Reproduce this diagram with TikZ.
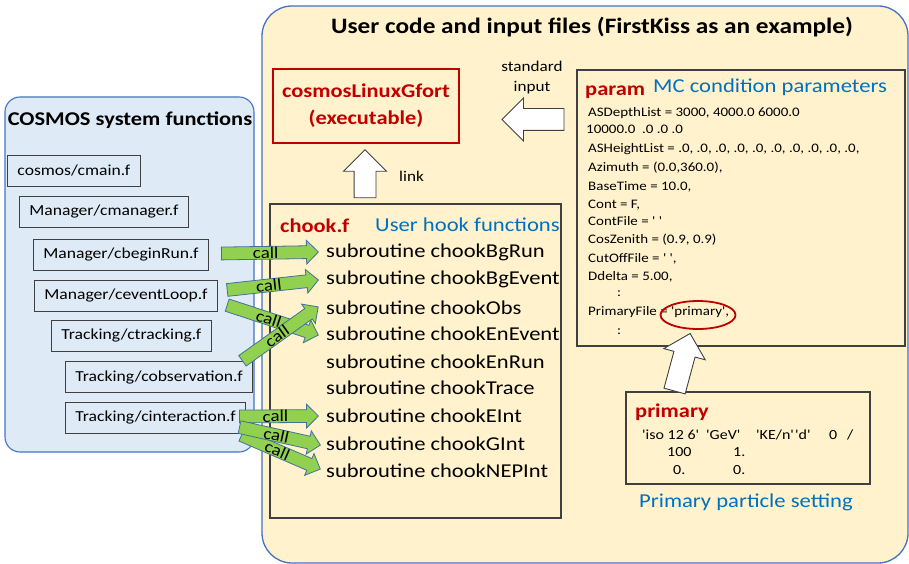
\documentclass[tikz,border=0pt]{standalone}
\usepackage{fontspec}
\setmainfont{Carlito}[Ligatures=TeXOff,FakeStretch=1.15]
\usetikzlibrary{calc,shapes.geometric,shapes.arrows}
\definecolor{usryellow}{RGB}{255,242,204}
\definecolor{sysblue}{RGB}{222,235,247}
\definecolor{frameblue}{RGB}{68,114,196}
\definecolor{hookred}{RGB}{192,0,0}
\definecolor{hookblue}{RGB}{0,112,192}
\definecolor{callgreen}{RGB}{146,208,80}
\definecolor{callrim}{RGB}{65,113,156}
\definecolor{boxgray}{RGB}{64,64,64}
% block arrow: style, tail, tip, name
\newcommand{\blockarrow}[4]{%
  \path let \p1=($(#3)-(#2)$), \n1={atan2(\y1,\x1)}, \n2={veclen(\x1,\y1)} in
    node[#1,anchor=tail,rotate=\n1,minimum height=\n2] (#4) at (#2) {};}
% green call arrow: tail, tip, name
\newcommand{\callarrow}[3]{%
  \blockarrow{callshape}{#1}{#2}{#3}%
  \path let \p1=($(#2)-(#1)$), \n1={atan2(\y1,\x1)} in
    node[calltext,rotate=\n1] (#3-lbl) at ($(#1)!0.46!(#2)$) {call};}

\begin{document}
\begin{tikzpicture}[x=1pt,y=-1pt,
  hdr/.style={inner sep=0pt,font=\bfseries\fontsize{19.5}{24}\selectfont},
  redhdr/.style={hdr,text=hookred,anchor=west},
  bluehdr/.style={inner sep=0pt,anchor=west,text=hookblue,font=\fontsize{19.7}{24}\selectfont},
  subr/.style={inner sep=0pt,anchor=west,font=\fontsize{19.6}{24}\selectfont},
  parline/.style={inner sep=0pt,anchor=west,font=\fontsize{13}{16}\selectfont},
  primline/.style={inner sep=0pt,anchor=west,font=\fontsize{13.9}{17}\selectfont},
  note/.style={inner sep=0pt,font=\fontsize{14.9}{20}\selectfont},
  srcbox/.style={draw=boxgray,fill=sysblue,line width=0.9pt,anchor=west,inner xsep=10pt,
    inner ysep=0pt,minimum height=31pt,font=\fontsize{15.3}{18}\selectfont},
  filebox/.style={draw=boxgray,line width=1.1pt},
  callshape/.style={single arrow,draw=callrim,fill=callgreen,line width=0.8pt,inner xsep=0pt,
    inner ysep=6pt,single arrow head extend=5.5pt},
  calltext/.style={inner sep=0pt,font=\fontsize{16.5}{20}\selectfont},
  whitearrow/.style={single arrow,draw=boxgray,fill=white,line width=0.9pt,inner xsep=0pt,
    inner ysep=10.5pt,single arrow head extend=10.5pt}]
  \useasboundingbox (0,0) rectangle (909,564);
  % --- two panels ---
  \draw[frameblue,fill=usryellow,line width=1.3pt,rounded corners=30pt] (262,6) rectangle (908,563);
  \draw[frameblue,fill=sysblue,line width=1.1pt,rounded corners=15pt] (5,97) rectangle (254,452);
  \node[hdr,font=\bfseries\fontsize{22}{26}\selectfont] (usrttl) at (592,27)
    {User code and input files (FirstKiss as an example)};
  \node[hdr] (systtl) at (130,120) {COSMOS system functions};
  % --- COSMOS source files ---
  \foreach \nm/\bx/\by/\txt in {cmain/7/171/{cosmos/cmain.f}, cmanager/19/211.5/{Manager/cmanager.f},
      cbeginRun/33/254.5/{Manager/cbeginRun.f}, ceventLoop/34/296/{Manager/ceventLoop.f},
      ctracking/51/335.5/{Tracking/ctracking.f}, cobservation/65/377/{Tracking/cobservation.f},
      cinteraction/65/417.5/{Tracking/cinteraction.f}}{%
    \node[srcbox] (\nm) at (\bx,\by) {\txt};}
  % --- executable ---
  \node[draw=hookred,line width=2.4pt,minimum width=186pt,minimum height=74pt,align=center,
    text=hookred,font=\bfseries\fontsize{19.5}{27}\selectfont] (exe) at (366,106)
    {cosmosLinuxGfort\\(executable)};
  % --- chook.f ---
  \node[filebox,minimum width=291pt,minimum height=314pt] (chook) at (415.5,361) {};
  \node[redhdr] (chookttl) at (280,226) {chook.f};
  \node[bluehdr] (chooksub) at (375,225) {User hook functions};
  \foreach \nm/\sy in {BgRun/252, BgEvent/279, Obs/308, EnEvent/334, EnRun/362,
      Trace/388, EInt/416, GInt/444, NEPInt/471}{%
    \node[subr] (sb\nm) at (326,\sy) {subroutine chook\nm};}
  % --- param ---
  \node[filebox,minimum width=328pt,minimum height=276pt] (param) at (741,208) {};
  \node[redhdr] (paramttl) at (585,92) {param};
  \node[bluehdr] (paramsub) at (653,87) {MC condition parameters};
  \foreach \lx/\ly/\txt [count=\i] in {588/113/{ASDepthList = 3000, 4000.0 6000.0},
      586/129/{10000.0\ \ .0 .0 .0},
      588/149/{ASHeightList = .0, .0, .0, .0, .0, .0, .0, .0, .0, .0,},
      588/168/{Azimuth = (0.0,360.0),}, 588/187/{BaseTime = 10.0,}, 588/205/{Cont = F,},
      588/221/{ContFile = ' '}, 588/240/{CosZenith = (0.9, 0.9)}, 588/259/{CutOffFile = ' ',},
      588/277/{Ddelta = 5.00,}, 617/294/{:}, 588/312/{PrimaryFile = 'primary',}, 617/332/{:}}{%
    \node[parline] (par\i) at (\lx,\ly) {\txt};}
  \node[draw=hookred,line width=1.8pt,ellipse,minimum width=75pt,minimum height=28pt] (circ) at (698,315) {};
  % --- primary ---
  \node[filebox,minimum width=244pt,minimum height=92pt] (primary) at (748,438) {};
  \node[redhdr] (primttl) at (635,412) {primary};
  \foreach \lx/\ly/\txt [count=\i] in {642/435/{'iso 12 6'}, 706/435/{'GeV'}, 756/435/{'KE/n'},
      795/435/{'d'}, 829/435/{0}, 847/435/{/}, 667/452/{100}, 733/452/{1.}, 673/470/{0.}, 733/470/{0.}}{%
    \node[primline] (prim\i) at (\lx,\ly) {\txt};}
  \node[bluehdr] (primsub) at (639,502) {Primary particle setting};
  % --- white block arrows ---
  \coordinate (si-tail) at ($(param.north west)+(-12,50)$);
  \coordinate (si-tip) at ($(si-tail)+(-62,0)$);
  \coordinate (lk-tail) at ($(exe.south)+(-1,54)$);
  \coordinate (lk-tip) at ($(exe.south)+(-1,6)$);
  \coordinate (pf-tail) at ($(primary.north west)+(49,0)$);
  \coordinate (pf-tip) at ($(circ.south)+(-8,4)$);
  \blockarrow{whitearrow}{si-tail}{si-tip}{stdin}
  \blockarrow{whitearrow}{lk-tail}{lk-tip}{link}
  \blockarrow{whitearrow}{pf-tail}{pf-tip}{pfile}
  \node[note,align=center] (stdinlbl) at (532,78) {standard\\input};
  \node[note,anchor=west] (linklbl) at (399,176) {link};
  % --- call arrows ---
  \coordinate (c1a) at ($(cbeginRun.east)+(12,-1)$);     \coordinate (c1b) at ($(sbBgRun.west)+(-8,0)$);
  \coordinate (c2a) at ($(ceventLoop.east)+(9,-6)$);     \coordinate (c2b) at ($(sbBgEvent.west)+(-8,1)$);
  \coordinate (c3a) at ($(ceventLoop.east)+(9,9)$);      \coordinate (c3b) at ($(sbEnEvent.west)+(-8,1)$);
  \coordinate (c4a) at ($(cobservation.north east)+(-11,0)$); \coordinate (c4b) at ($(sbObs.west)+(-8,-1)$);
  \coordinate (c5a) at ($(cinteraction.east)+(-7,-1)$);  \coordinate (c5b) at ($(sbEInt.west)+(-8,0)$);
  \coordinate (c6a) at ($(cinteraction.east)+(-7,9.5)$); \coordinate (c6b) at ($(sbGInt.west)+(-6,1)$);
  \coordinate (c7a) at ($(cinteraction.east)+(-5,17.5)$); \coordinate (c7b) at ($(sbNEPInt.west)+(-6,-2)$);
  \callarrow{c1a}{c1b}{call1}
  \callarrow{c2a}{c2b}{call2}
  \callarrow{c3a}{c3b}{call3}
  \callarrow{c4a}{c4b}{call4}
  \callarrow{c5a}{c5b}{call5}
  \callarrow{c7a}{c7b}{call7}
  \callarrow{c6a}{c6b}{call6}
\end{tikzpicture}
\end{document}
